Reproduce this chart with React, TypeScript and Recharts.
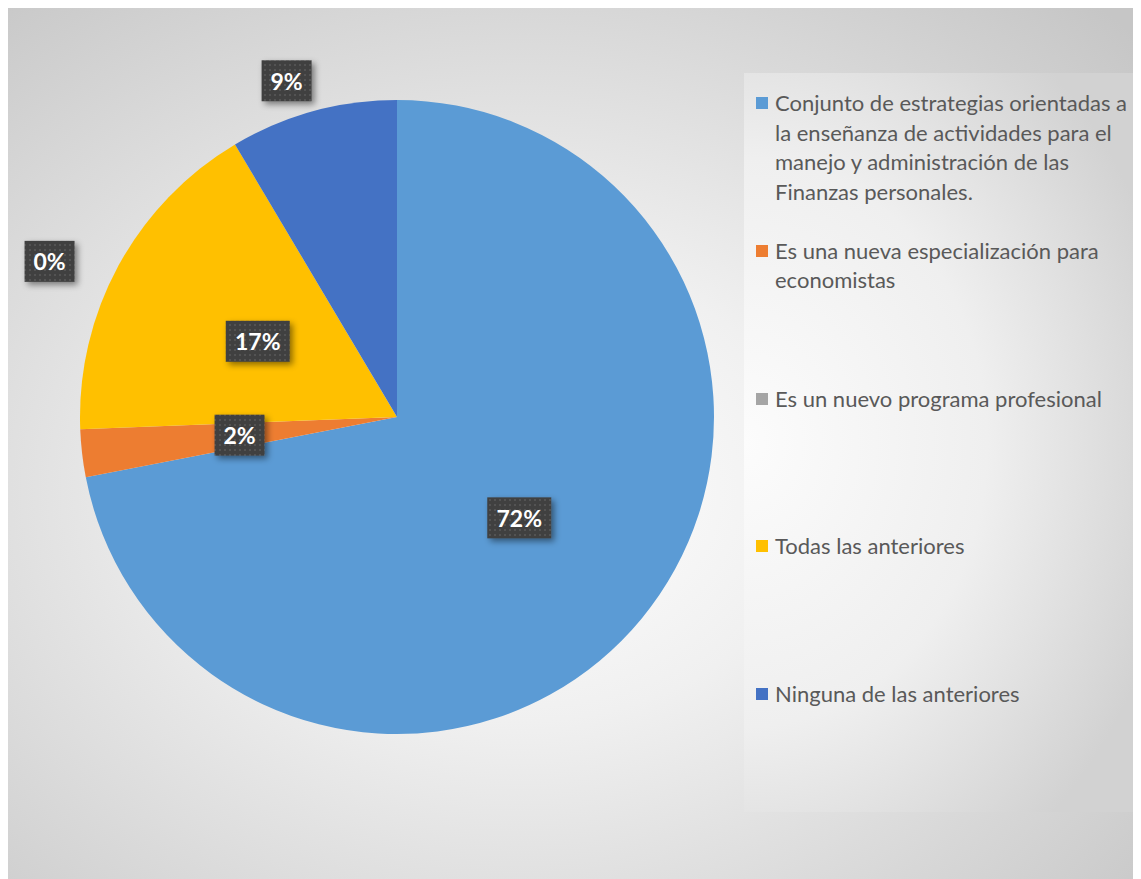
import { PieChart, Pie, Cell, Legend } from "recharts";

const categories = [
  "Conjunto de estrategias orientadas a la enseñanza de actividades para el manejo y administración de las Finanzas personales.",
  "Es una nueva especialización para economistas",
  "Es un nuevo programa profesional",
  "Todas las anteriores",
  "Ninguna de las anteriores",
];
const responses = [59, 2, 0, 14, 7];
const colors = ["#5B9BD5", "#ED7D31", "#A5A5A5", "#FFC000", "#4472C4"];

// label placement: radius factor along the slice middle, then a nudge (Excel best fit)
const labelRadius = [0.5, 0.5, 1.1, 0.5, 1.1];
const labelNudge = [
  [0, 0],
  [0, 0],
  [1, -169],
  [0, 0],
  [-18, 0],
];

const data = categories.map((name, i) => ({ name, value: responses[i] }));

const RAD = Math.PI / 180;

function renderLabel(props: any) {
  const { cx, cy, midAngle, outerRadius, index, percent } = props;
  const r = outerRadius * labelRadius[index];
  const x = cx + r * Math.cos(-midAngle * RAD) + labelNudge[index][0];
  const y = cy + r * Math.sin(-midAngle * RAD) + labelNudge[index][1];
  const text = `${Math.round(percent * 100)}%`;
  const w = 22 + text.length * 14;
  const h = 41;
  return (
    <g key={`lbl-${index}`}>
      <rect x={x - w / 2} y={y - h / 2} width={w} height={h} fill="url(#dots)" filter="url(#shadow)" />
      <text
        x={x}
        y={y}
        textAnchor="middle"
        dominantBaseline="central"
        fill="#ffffff"
        fontFamily="Lato, 'Open Sans', sans-serif"
        fontWeight={700}
        fontSize={23}
      >
        {text}
      </text>
    </g>
  );
}

function LegendBox({ payload }: any) {
  const items = categories.map((name, i) => {
    const p = (payload || []).find((q: any) => q.value === name);
    return { name, color: p ? p.color : colors[i] };
  });
  return (
    <div
      style={{
        width: 402,
        height: 739,
        background: "radial-gradient(ellipse 110% 70% at 0% 50%, #fcfcfc 0%, #efefef 55%, #d2d2d2 100%)",
      }}
    >
      {items.map((p, i) => (
        <div key={i} style={{ height: 147.8, boxSizing: "border-box", paddingTop: 15, position: "relative" }}>
          <span
            style={{
              position: "absolute",
              left: 12,
              top: 24,
              width: 12,
              height: 12,
              background: p.color,
            }}
          />
          <div
            style={{
              marginLeft: 31,
              width: 364,
              fontFamily: "Lato, 'Open Sans', sans-serif",
              fontSize: 22,
              lineHeight: "29.5px",
              color: "#595959",
            }}
          >
            {p.name}
          </div>
        </div>
      ))}
    </div>
  );
}

export default function App() {
  return (
    <div
      style={{
        position: "relative",
        width: 1138,
        height: 878,
        margin: "-1px 0 0 -1px",
        border: "1px solid #bfbfbf",
        background: "radial-gradient(ellipse 75% 75% at 45% 55%, #ffffff 0%, #f0f0f0 35%, #c6c6c6 100%)",
        overflow: "hidden",
      }}
    >
      <PieChart width={1138} height={878} margin={{ top: 0, right: 0, bottom: 0, left: 0 }}>
        <defs>
          <pattern id="dots" width="5" height="5" patternUnits="userSpaceOnUse">
            <rect width="5" height="5" fill="#404040" />
            <rect x="1" y="1" width="2" height="2" fill="#525252" />
          </pattern>
          <filter id="shadow" x="-30%" y="-30%" width="170%" height="170%">
            <feDropShadow dx="3" dy="3" stdDeviation="3" floodColor="#000" floodOpacity="0.45" />
          </filter>
        </defs>
        <Pie
          data={data}
          dataKey="value"
          nameKey="name"
          cx={389}
          cy={409}
          outerRadius={317}
          startAngle={90}
          endAngle={-270}
          stroke="none"
          labelLine={false}
          label={renderLabel}
          isAnimationActive={false}
        >
          {data.map((d, i) => (
            <Cell key={d.name} fill={colors[i]} />
          ))}
        </Pie>
        <Legend
          layout="vertical"
          content={<LegendBox />}
          wrapperStyle={{ position: "absolute", left: 736, top: 65, width: 402, height: 739 }}
        />
      </PieChart>
    </div>
  );
}
